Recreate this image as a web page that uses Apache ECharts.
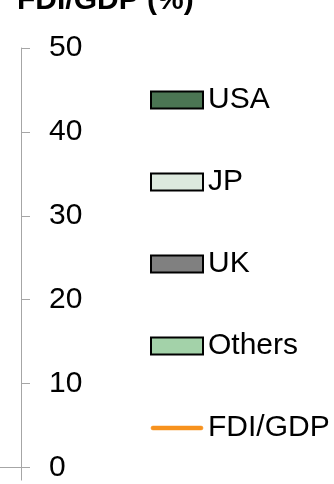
<!DOCTYPE html>
<html>
<head>
<meta charset="utf-8">
<script src="https://cdn.jsdelivr.net/npm/echarts@6/dist/echarts.min.js"></script>
<style>
html,body{margin:0;padding:0;background:#fff;}
#c{width:334px;height:484px;}
</style>
</head>
<body>
<div id="c"></div>
<script>
// Only the right-hand edge of the chart is visible: no bar or line values can be read.
var categories = [''];
var usa = [null];
var jp = [null];
var uk = [null];
var others = [null];
var fdiGdp = [null];
var seriesNames = ['USA', 'JP', 'UK', 'Others', 'FDI/GDP'];
var yMin = 0, yMax = 50, yStep = 10;
var titleText = 'FDI/GDP (%)';

var font = 'Liberation Sans, Arial, sans-serif';
var colors = {USA:'#4b7553', JP:'#dde9de', UK:'#808080', Others:'#a3d2a9', 'FDI/GDP':'#f7921e'};
var barData = {USA:usa, JP:jp, UK:uk, Others:others};

var series = ['USA','JP','UK','Others'].map(function(n){
  return {
    name:n, type:'bar', stack:'fdi', data:barData[n],
    itemStyle:{color:colors[n], borderColor:'#000', borderWidth:1}
  };
});
series.push({
  name:'FDI/GDP', type:'line', data:fdiGdp, symbol:'none',
  lineStyle:{color:colors['FDI/GDP'], width:3.5, cap:'round'},
  itemStyle:{color:colors['FDI/GDP']}
});

var lineIcon = 'path://M2,0H53A2,2 0 0 1 53,4H2A2,2 0 0 1 2,0Z';

var chart = echarts.init(document.getElementById('c'), null, {renderer:'canvas'});
chart.setOption({
  animation:false,
  title:{
    text:titleText, left:12, top:-19,
    textStyle:{fontFamily:font, fontSize:30, fontWeight:'bold', color:'#000'}
  },
  grid:{left:-400, right:313, top:48, bottom:16.5, outerBoundsMode:'none', containLabel:false},
  legend:{
    type:'plain', orient:'vertical', left:145, top:78, height:400,
    itemWidth:52, itemHeight:17, itemGap:48,
    data:seriesNames.map(function(n){
      return n === 'FDI/GDP'
        ? {name:n, icon:lineIcon, itemStyle:{color:colors[n], borderColor:colors[n], borderWidth:0.6}}
        : {name:n, icon:'rect'};
    }),
    textStyle:{fontFamily:font, fontSize:30, color:'#000', lineHeight:34}
  },
  xAxis:{
    type:'category', data:categories,
    axisLine:{lineStyle:{color:'#a6a6a6', width:1}},
    axisTick:{show:true, length:13, lineStyle:{color:'#a6a6a6'}},
    axisLabel:{show:false}
  },
  yAxis:{
    type:'value', position:'right', min:yMin, max:yMax, interval:yStep,
    axisLine:{show:true, lineStyle:{color:'#a6a6a6', width:1}},
    axisTick:{show:true, length:9, lineStyle:{color:'#a6a6a6'}},
    splitLine:{show:false},
    axisLabel:{margin:28, fontFamily:font, fontSize:30, color:'#000'}
  },
  series:series
});
</script>
</body>
</html>
